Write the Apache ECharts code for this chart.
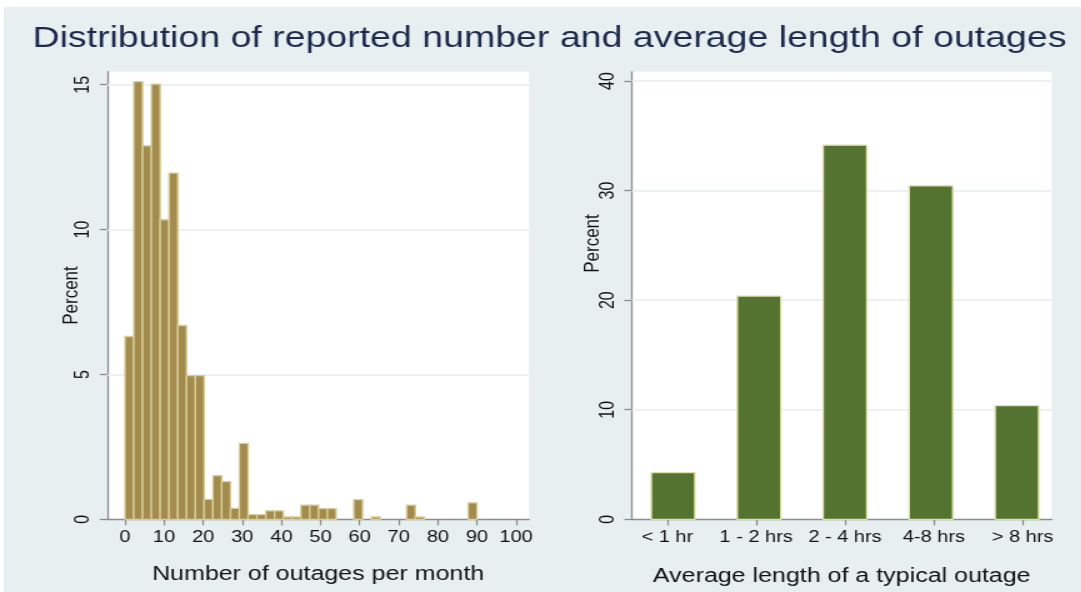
<!DOCTYPE html>
<html><head><meta charset="utf-8">
<script src="https://cdn.jsdelivr.net/npm/echarts@6/dist/echarts.min.js"></script>
<style>
html,body{margin:0;padding:0;background:#fff;overflow:hidden;}
#wrap{position:relative;width:1081px;height:592px;overflow:hidden;background:#fff;}
#bg{position:absolute;left:4px;top:7px;right:0;bottom:0;background:#e8eff1;}
#chart{position:absolute;left:0;top:0;width:865px;height:592px;transform:scaleX(1.25);transform-origin:0 0;}
</style></head><body>
<div id="wrap"><div id="bg"></div><div id="chart"></div></div>
<script>
// ---- data ----
const titleText = 'Distribution of reported number and average length of outages';
const outageBinWidth = 2.25;
const outagePercent = [6.31, 15.11, 12.89, 15.02, 10.34, 11.95, 6.69, 4.96, 4.96, 0.69,
  1.51, 1.30, 0.38, 2.62, 0.16, 0.16, 0.29, 0.29, 0.08, 0.08,
  0.49, 0.49, 0.37, 0.37, 0, 0, 0.68, 0, 0.08, 0,
  0, 0, 0.49, 0.08, 0, 0, 0, 0, 0, 0.57];
const outageXTicks = [0, 10, 20, 30, 40, 50, 60, 70, 80, 90, 100];
const outageYTicks = [0, 5, 10, 15];
const lengthCategories = ['< 1 hr', '1 - 2 hrs', '2 - 4 hrs', '4-8 hrs', '> 8 hrs'];
const lengthPercent = [4.26, 20.37, 34.14, 30.43, 10.37];
const lengthYTicks = [0, 10, 20, 30, 40];
const lengthXPositions = [1, 2, 3, 4, 5];

// ---- styles / layout ----
const FONT = '"Liberation Sans", Arial, sans-serif';
const axisLineStyle = {color: '#8c8c8c', width: 1.3};
const gridLineStyle = {color: '#e6eef0', width: 1.6, type: 'solid'};
const BAR_HALF = 0.245;      // half bar width in axis units
const BAR_STEP = 0.9675;     // bar-to-bar spacing (bars sit slightly tighter than the labels)

const chart = echarts.init(document.getElementById('chart'));

function histItem(params, api) {
  const x0 = api.value(0), x1 = api.value(1), v = api.value(2);
  if (!v) return;
  const p0 = api.coord([x0, v]);
  const p1 = api.coord([x1, 0]);
  return {type: 'rect',
    shape: {x: p0[0], y: p0[1], width: p1[0] - p0[0], height: p1[1] - p0[1]},
    style: {fill: '#a38b4d', stroke: '#d8ce98', lineWidth: 1.3}};
}
function barItem(params, api) {
  const c = api.value(0), v = api.value(1);
  const mid = (lengthXPositions.length + 1) / 2;
  const cc = mid + (c - mid) * BAR_STEP;
  const p0 = api.coord([cc - BAR_HALF, v]);
  const p1 = api.coord([cc + BAR_HALF, 0]);
  return {type: 'rect',
    shape: {x: p0[0], y: p0[1], width: p1[0] - p0[0], height: p1[1] - p0[1]},
    style: {fill: '#557330', stroke: '#dde2a6', lineWidth: 1.3}};
}

const tickLabel = {color: '#111', fontSize: 16, fontFamily: FONT};
const nameStyle = {color: '#111', fontSize: 20, fontFamily: FONT};
const yNameStyle = {color: '#111', fontSize: 17, fontFamily: FONT};

chart.setOption({
  animation: false,
  graphic: [{
    type: 'text', x: 439.6, y: 39,
    style: {text: titleText, textAlign: 'center', textVerticalAlign: 'middle',
      fontSize: 30, fontFamily: FONT, fill: '#1e2a4c'}
  }, {
    type: 'text', x: 474.2, y: 243.5, rotation: Math.PI / 2,
    style: {text: 'Percent', textAlign: 'center', textVerticalAlign: 'middle',
      fontSize: 17, fontFamily: FONT, fill: '#111'}
  }],
  grid: [
    {left: 85.8, top: 71.7, width: 337.4, height: 447.6, show: true, backgroundColor: '#fff', borderWidth: 0},
    {left: 505.4, top: 71.7, width: 336, height: 447.6, show: true, backgroundColor: '#fff', borderWidth: 0}
  ],
  xAxis: [
    {gridIndex: 0, type: 'value', min: -4.53, max: 103.3,
      name: 'Number of outages per month', nameLocation: 'middle', nameGap: 45, nameMoveOverlap: false, nameTextStyle: nameStyle,
      axisLine: {show: true, onZero: false, lineStyle: axisLineStyle},
      axisTick: {show: true, length: 6, lineStyle: axisLineStyle, customValues: outageXTicks},
      axisLabel: Object.assign({margin: 10, customValues: outageXTicks}, tickLabel),
      splitLine: {show: false}},
    {gridIndex: 1, type: 'value', min: 0.6, max: 5.327,
      name: 'Average length of a typical outage', nameLocation: 'middle', nameGap: 47, nameMoveOverlap: false, nameTextStyle: nameStyle,
      axisLine: {show: true, onZero: false, lineStyle: axisLineStyle},
      axisTick: {show: true, length: 6, lineStyle: axisLineStyle, customValues: lengthXPositions},
      axisLabel: Object.assign({margin: 10, customValues: lengthXPositions,
        formatter: v => lengthCategories[Math.round(v) - 1]}, tickLabel),
      splitLine: {show: false}}
  ],
  yAxis: [
    {gridIndex: 0, type: 'value', min: 0, max: 15.45,
      name: 'Percent', nameLocation: 'middle', nameGap: 20, nameMoveOverlap: false, nameRotate: 90, nameTextStyle: yNameStyle,
      axisLine: {show: true, onZero: false, lineStyle: axisLineStyle},
      axisTick: {show: true, length: 6, lineStyle: axisLineStyle, customValues: outageYTicks},
      axisLabel: Object.assign({margin: 11, rotate: 90, customValues: outageYTicks}, tickLabel),
      splitLine: {show: false}},
    {gridIndex: 1, type: 'value', min: 0, max: 40.85,
      axisLine: {show: true, onZero: false, lineStyle: axisLineStyle},
      axisTick: {show: true, length: 6, lineStyle: axisLineStyle, customValues: lengthYTicks},
      axisLabel: Object.assign({margin: 11, rotate: 90, customValues: lengthYTicks}, tickLabel),
      splitLine: {show: false}}
  ],
  series: [
    {type: 'custom', xAxisIndex: 0, yAxisIndex: 0, z: 3, renderItem: histItem,
      data: outagePercent.map((v, i) => [i * outageBinWidth, (i + 1) * outageBinWidth, v]),
      markLine: {silent: true, z: 1, symbol: 'none', label: {show: false}, lineStyle: gridLineStyle,
        data: outageYTicks.filter(t => t > 0).map(t => ({yAxis: t}))}},
    {type: 'custom', xAxisIndex: 1, yAxisIndex: 1, z: 3, renderItem: barItem,
      data: lengthPercent.map((v, i) => [lengthXPositions[i], v]),
      markLine: {silent: true, z: 1, symbol: 'none', label: {show: false}, lineStyle: gridLineStyle,
        data: lengthYTicks.filter(t => t > 0).map(t => ({yAxis: t}))}}
  ]
});
</script>
</body></html>
